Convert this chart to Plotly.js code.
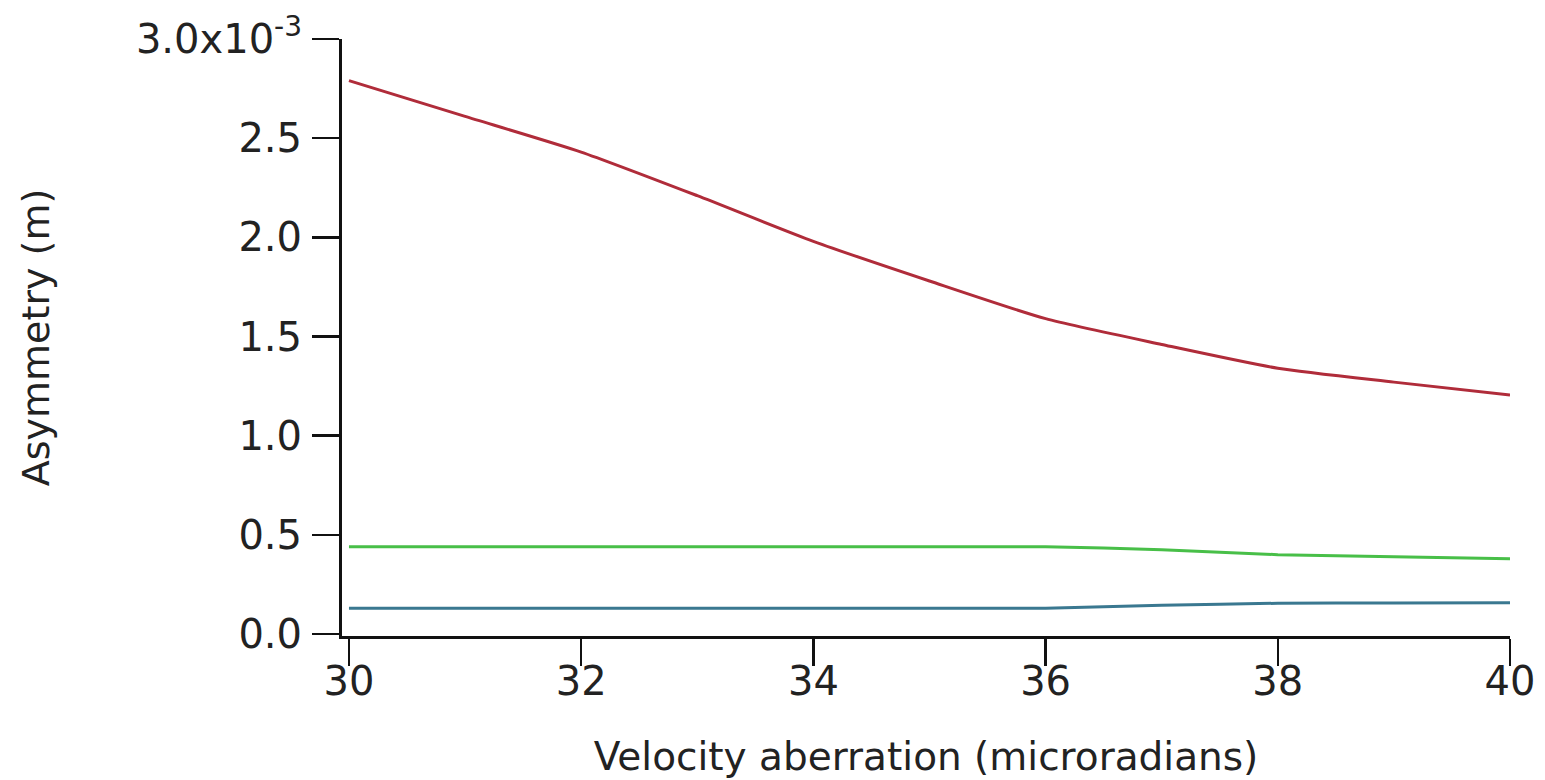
<!DOCTYPE html>
<html>
<head>
<meta charset="utf-8">
<script src="https://cdn.plot.ly/plotly-3.0.1.min.js"></script>
<style>html,body{margin:0;padding:0;background:#fff;}#chart{width:1545px;height:780px;}</style>
</head>
<body>
<div id="chart"></div>
<script>
const velocityAberration = [30, 31, 32, 33, 34, 35, 36, 37, 38, 39, 40];
const asymmetryRed   = [2.79e-3, 2.61e-3, 2.43e-3, 2.21e-3, 1.98e-3, 1.78e-3, 1.59e-3, 1.46e-3, 1.34e-3, 1.27e-3, 1.205e-3];
const asymmetryGreen = [0.44e-3, 0.44e-3, 0.44e-3, 0.44e-3, 0.44e-3, 0.44e-3, 0.44e-3, 0.425e-3, 0.40e-3, 0.39e-3, 0.38e-3];
const asymmetryBlue  = [0.13e-3, 0.13e-3, 0.13e-3, 0.13e-3, 0.13e-3, 0.13e-3, 0.13e-3, 0.145e-3, 0.155e-3, 0.157e-3, 0.158e-3];
const yTickVals = [0, 0.5e-3, 1.0e-3, 1.5e-3, 2.0e-3, 2.5e-3, 3.0e-3];
const yTickText = ['0.0', '0.5', '1.0', '1.5', '2.0', '2.5', '3.0x10<sup>-3</sup>'];
const xTickVals = [30, 32, 34, 36, 38, 40];

const fontFam = 'DejaVu Sans, Verdana, sans-serif';
const traces = [
  {x: velocityAberration, y: asymmetryRed, mode: 'lines', line: {color: '#b02c3a', width: 3, shape: 'spline', smoothing: 0.6}},
  {x: velocityAberration, y: asymmetryGreen, mode: 'lines', line: {color: '#48bf48', width: 3, shape: 'spline', smoothing: 0.6}},
  {x: velocityAberration, y: asymmetryBlue, mode: 'lines', line: {color: '#3a7890', width: 3, shape: 'spline', smoothing: 0.6}}
];
const layout = {
  width: 1545, height: 780,
  margin: {l: 342, r: 35, t: 39, b: 144},
  paper_bgcolor: '#fff', plot_bgcolor: '#fff',
  showlegend: false,
  font: {family: fontFam, color: '#222', size: 40},
  xaxis: {
    range: [29.94, 40], tickvals: xTickVals, ticks: 'outside', ticklen: 27, tickwidth: 2.5,
    tickcolor: '#111', showline: true, linecolor: '#111', linewidth: 3, showgrid: false, zeroline: false,
    ticklabelstandoff: -19,
    tickfont: {size: 40, family: fontFam, color: '#222'},
    title: {text: 'Velocity aberration (microradians)', font: {size: 39, family: fontFam, color: '#222'}, standoff: 40}
  },
  yaxis: {
    range: [-0.01e-3, 3.0e-3], tickvals: yTickVals, ticktext: yTickText, ticks: 'outside', ticklen: 27, tickwidth: 2.5,
    tickcolor: '#111', showline: true, linecolor: '#111', linewidth: 3, showgrid: false, zeroline: false,
    ticklabelstandoff: 2,
    tickfont: {size: 40, family: fontFam, color: '#222'},
    title: {text: 'Asymmetry (m)', font: {size: 38, family: fontFam, color: '#222'}, standoff: 75}
  }
};
Plotly.newPlot('chart', traces, layout, {displayModeBar: false, staticPlot: true});
</script>
</body>
</html>
